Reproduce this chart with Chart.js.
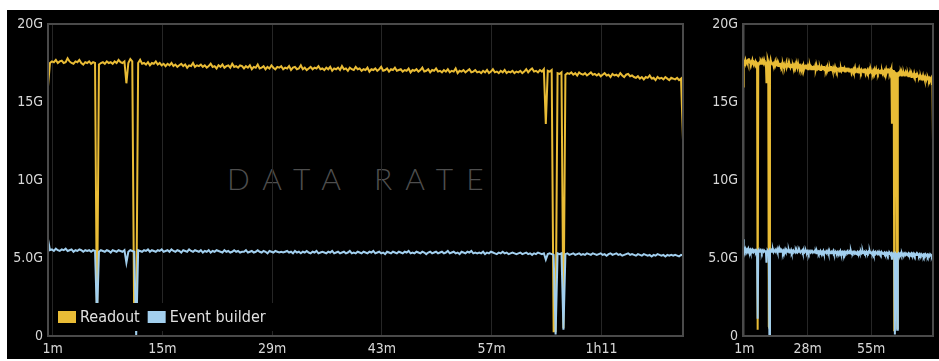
<!DOCTYPE html>
<html>
<head>
<meta charset="utf-8">
<script src="https://cdn.jsdelivr.net/npm/chart.js@4/dist/chart.umd.min.js"></script>
<style>
html, body { margin: 0; padding: 0; background: #fff; }
#frame { position: absolute; left: 7px; top: 10px; width: 932px; height: 349px; background: #000; overflow: hidden; }
#mark { position: absolute; left: 220px; top: 150px; font-family: Lato, "Open Sans", sans-serif; font-weight: 300; font-size: 30px; line-height: 36px; letter-spacing: 13px; color: #4e4e4e; white-space: nowrap; }
#leftChart { position: absolute; left: 0; top: 0; }
#rightChart { position: absolute; left: 696px; top: 0; }
</style>
</head>
<body>
<div id="frame">
	<div id="mark">DATA RATE</div>
	<canvas id="leftChart" width="680" height="349"></canvas>
	<canvas id="rightChart" width="236" height="349"></canvas>
</div>
<script>
// sampling of the run, in minutes
startMin = 0.4;
stepMin = 0.25;

// Gbit/s, one row = 5 minutes
readout = [
	16.0, 17.5, 17.6, 17.55, 17.7, 17.5, 17.6, 17.65, 17.5, 17.55, 17.8, 17.6, 17.5, 17.45, 17.6, 17.55, 17.7, 17.5, 17.4, 17.55,
	17.5, 17.6, 17.45, 17.55, 17.5, 0.4, 17.4, 17.5, 17.55, 17.45, 17.6, 17.5, 17.55, 17.45, 17.6, 17.5, 17.7, 17.55, 17.5, 17.6,
	16.2, 17.5, 17.75, 17.6, 0.6, 0.5, 17.5, 17.7, 17.45, 17.5, 17.4, 17.55, 17.35, 17.5, 17.45, 17.6, 17.4, 17.5, 17.35, 17.45,
	17.3, 17.45, 17.35, 17.5, 17.3, 17.4, 17.25, 17.35, 17.45, 17.3, 17.4, 17.2, 17.35, 17.3, 17.5, 17.25, 17.35, 17.3, 17.4, 17.25,
	17.35, 17.2, 17.3, 17.45, 17.25, 17.3, 17.15, 17.35, 17.25, 17.4, 17.2, 17.3, 17.35, 17.2, 17.45, 17.25, 17.3, 17.2, 17.35, 17.3,
	17.15, 17.3, 17.2, 17.35, 17.1, 17.25, 17.2, 17.4, 17.15, 17.2, 17.3, 17.1, 17.25, 17.15, 17.35, 17.2, 17.1, 17.25, 17.2, 17.3,
	17.1, 17.2, 17.15, 17.3, 17.05, 17.2, 17.25, 17.1, 17.15, 17.35, 17.1, 17.2, 17.05, 17.15, 17.25, 17.1, 17.2, 17.15, 17.3, 17.1,
	17.15, 17.05, 17.2, 17.1, 17.25, 17.0, 17.15, 17.1, 17.2, 17.05, 17.3, 17.1, 17.15, 17.0, 17.2, 17.1, 17.05, 17.25, 17.1, 17.15,
	17.0, 17.1, 17.05, 17.2, 16.95, 17.1, 17.05, 17.15, 17.0, 17.1, 17.25, 17.0, 17.05, 17.15, 16.95, 17.1, 17.05, 17.2, 17.0, 17.05,
	17.1, 16.95, 17.05, 17.0, 17.15, 16.9, 17.05, 17.0, 17.1, 16.95, 17.05, 17.2, 16.95, 17.0, 17.1, 16.9, 17.05, 17.0, 17.15, 16.95,
	17.0, 16.9, 17.05, 16.95, 17.1, 16.9, 17.0, 16.95, 17.15, 16.85, 17.0, 16.95, 17.05, 16.9, 17.0, 17.1, 16.9, 16.95, 17.05, 16.9,
	16.95, 16.85, 17.0, 16.9, 17.05, 16.85, 16.95, 17.1, 16.9, 16.95, 16.85, 17.0, 16.9, 17.05, 16.85, 16.95, 16.9, 17.0, 16.85, 16.95,
	16.9, 17.0, 16.85, 16.95, 17.1, 16.9, 17.05, 17.15, 16.95, 17.0, 16.9, 17.05, 16.95, 17.1, 13.6, 17.0, 16.95, 17.05, 0.3, 0.3,
	16.85, 16.8, 16.9, 0.5, 16.75, 16.85, 16.8, 16.9, 16.75, 16.85, 16.7, 16.9, 16.8, 16.75, 16.85, 16.7, 16.8, 16.9, 16.75, 16.8,
	16.7, 16.8, 16.65, 16.75, 16.85, 16.7, 16.75, 16.6, 16.8, 16.7, 16.75, 16.65, 16.85, 16.7, 16.6, 16.75, 16.8, 16.65, 16.7, 16.6,
	16.55, 16.65, 16.5, 16.6, 16.45, 16.6, 16.55, 16.7, 16.5, 16.55, 16.4, 16.6, 16.5, 16.55, 16.45, 16.6, 16.5, 16.4, 16.55, 16.5,
	16.45, 16.55, 16.4, 16.5, 12.6
];

eventBuilder = [
	6.2, 5.5, 5.55, 5.45, 5.6, 5.5, 5.45, 5.55, 5.5, 5.6, 5.45, 5.5, 5.55, 5.4, 5.5, 5.45, 5.55, 5.5, 5.4, 5.5,
	5.45, 5.5, 5.4, 5.5, 5.45, 1.1, 5.4, 5.5, 5.45, 5.4, 5.5, 5.45, 5.35, 5.5, 5.45, 5.4, 5.5, 5.45, 5.4, 5.5,
	4.7, 5.4, 5.5, 5.45, 5.4, 0.05, 5.5, 5.45, 5.4, 5.5, 5.45, 5.55, 5.4, 5.5, 5.45, 5.4, 5.5, 5.45, 5.55, 5.4,
	5.45, 5.5, 5.4, 5.55, 5.45, 5.4, 5.5, 5.45, 5.35, 5.5, 5.45, 5.4, 5.55, 5.45, 5.4, 5.5, 5.45, 5.4, 5.5, 5.35,
	5.45, 5.4, 5.5, 5.35, 5.45, 5.4, 5.5, 5.45, 5.4, 5.35, 5.5, 5.4, 5.45, 5.35, 5.4, 5.5, 5.4, 5.45, 5.35, 5.4,
	5.4, 5.5, 5.35, 5.4, 5.45, 5.35, 5.4, 5.5, 5.4, 5.35, 5.45, 5.4, 5.3, 5.45, 5.4, 5.35, 5.45, 5.4, 5.35, 5.4,
	5.35, 5.4, 5.45, 5.35, 5.4, 5.3, 5.45, 5.35, 5.4, 5.3, 5.4, 5.35, 5.45, 5.35, 5.3, 5.4, 5.35, 5.45, 5.3, 5.35,
	5.4, 5.35, 5.3, 5.4, 5.35, 5.45, 5.3, 5.35, 5.4, 5.3, 5.35, 5.4, 5.3, 5.35, 5.45, 5.3, 5.35, 5.3, 5.4, 5.35,
	5.3, 5.4, 5.35, 5.3, 5.4, 5.35, 5.45, 5.3, 5.35, 5.4, 5.3, 5.35, 5.25, 5.4, 5.35, 5.3, 5.4, 5.35, 5.3, 5.4,
	5.35, 5.3, 5.4, 5.35, 5.45, 5.3, 5.35, 5.3, 5.4, 5.35, 5.3, 5.4, 5.35, 5.25, 5.35, 5.4, 5.3, 5.35, 5.4, 5.3,
	5.35, 5.4, 5.3, 5.35, 5.45, 5.3, 5.35, 5.4, 5.3, 5.35, 5.25, 5.4, 5.35, 5.3, 5.4, 5.35, 5.45, 5.3, 5.35, 5.3,
	5.35, 5.3, 5.4, 5.25, 5.35, 5.3, 5.4, 5.35, 5.3, 5.25, 5.35, 5.3, 5.4, 5.3, 5.35, 5.25, 5.3, 5.35, 5.3, 5.25,
	5.3, 5.35, 5.25, 5.3, 5.35, 5.25, 5.3, 5.2, 5.3, 5.25, 5.35, 5.3, 5.25, 5.3, 4.9, 5.25, 5.3, 5.25, 5.2, 0.1,
	5.3, 5.25, 5.3, 0.4, 5.25, 5.3, 5.2, 5.25, 5.3, 5.2, 5.25, 5.3, 5.2, 5.25, 5.2, 5.3, 5.25, 5.2, 5.3, 5.25,
	5.2, 5.25, 5.3, 5.2, 5.25, 5.15, 5.25, 5.3, 5.2, 5.25, 5.3, 5.2, 5.25, 5.15, 5.2, 5.25, 5.3, 5.2, 5.25, 5.2,
	5.15, 5.25, 5.2, 5.15, 5.25, 5.2, 5.15, 5.2, 5.1, 5.2, 5.15, 5.25, 5.2, 5.15, 5.2, 5.1, 5.2, 5.15, 5.2, 5.15,
	5.2, 5.15, 5.1, 5.2, 5.15
];

leftTicks = [1, 15, 29, 43, 57, 71];
rightTicks = [1, 28, 55];
yTicks = [0, 5, 10, 15, 20];

readoutColor = '#e9bc36';
builderColor = '#a2cfee';

Chart.defaults.font.family = '"DejaVu Sans Condensed", "DejaVu Sans", sans-serif';
Chart.defaults.color = '#d8d8d8';

function points(values) {
	return values.map(function(v, i) {
		return { x: startMin + i * stepMin, y: v };
	});
}

function minuteLabel(v) {
	if (v < 60) return v + 'm';
	m = v % 60;
	return Math.floor(v / 60) + 'h' + (m < 10 ? '0' + m : m);
}

function rateLabel(v) {
	if (v == 0) return '0';
	if (v < 10) return v.toFixed(1) + 'G';
	return v + 'G';
}

frameBox = {
	id: 'frameBox',
	afterDatasetsDraw: function(chart) {
		a = chart.chartArea;
		c = chart.ctx;
		c.save();
		c.strokeStyle = '#4a4a4a';
		c.lineWidth = 2;
		c.strokeRect(a.left, a.top, a.right - a.left, a.bottom - a.top);
		c.restore();
	}
};

insideLegend = {
	id: 'insideLegend',
	afterDatasetsDraw: function(chart) {
		a = chart.chartArea;
		c = chart.ctx;
		items = [
			{ text: 'Readout', color: readoutColor },
			{ text: 'Event builder', color: builderColor }
		];
		c.save();
		c.font = '16px "DejaVu Sans Condensed", "DejaVu Sans", sans-serif';
		c.textBaseline = 'middle';
		total = 0;
		items.forEach(function(it) { total += 18 + 4 + c.measureText(it.text).width + 8; });
		cy = a.bottom - 19;
		c.fillStyle = '#000';
		c.fillRect(a.left + 6, cy - 14, total + 6, 28);
		x = a.left + 10;
		items.forEach(function(it) {
			c.fillStyle = it.color;
			c.fillRect(x, cy - 6, 18, 12);
			x += 22;
			c.fillStyle = '#e0e0e0';
			c.fillText(it.text, x, cy + 1);
			x += c.measureText(it.text).width + 8;
		});
		c.restore();
	}
};

function makeChart(id, ticks, yWidth, padRight, plugins) {
	return new Chart(document.getElementById(id), {
		type: 'line',
		data: {
			datasets: [
				{
					label: 'Event builder',
					data: points(eventBuilder),
					borderColor: builderColor,
					borderWidth: 2,
					pointRadius: 0,
					tension: 0
				},
				{
					label: 'Readout',
					data: points(readout),
					borderColor: readoutColor,
					borderWidth: 2,
					pointRadius: 0,
					tension: 0
				}
			]
		},
		options: {
			responsive: false,
			animation: false,
			layout: { padding: { top: 14, right: padRight, left: 0, bottom: 0 } },
			plugins: {
				legend: { display: false },
				tooltip: { enabled: false }
			},
			scales: {
				x: {
					type: 'linear',
					min: 0.4,
					max: 81.4,
					afterBuildTicks: function(s) { s.ticks = ticks.map(function(v) { return { value: v }; }); },
					afterFit: function(s) { s.height = 23; },
					ticks: { callback: minuteLabel, padding: 5, maxRotation: 0, autoSkip: false, font: { size: 14 } },
					grid: { color: '#262626', drawTicks: false },
					border: { display: false }
				},
				y: {
					min: 0,
					max: 20,
					afterBuildTicks: function(s) { s.ticks = yTicks.map(function(v) { return { value: v }; }); },
					afterFit: function(s) { s.width = yWidth; },
					ticks: { callback: rateLabel, padding: 5, font: { size: 14 } },
					grid: { display: false, drawTicks: false },
					border: { display: false }
				}
			}
		},
		plugins: plugins
	});
}

makeChart('leftChart', leftTicks, 41, 4, [frameBox, insideLegend]);
makeChart('rightChart', rightTicks, 40, 6, [frameBox]);
</script>
</body>
</html>
